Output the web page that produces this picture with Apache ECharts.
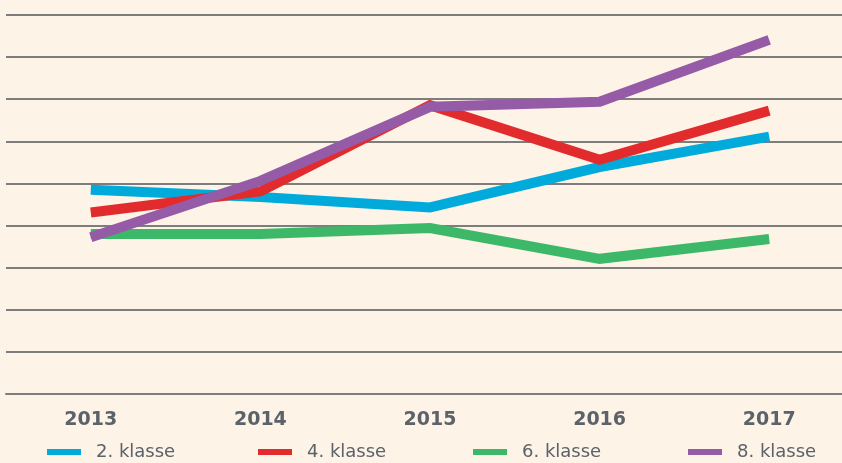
<!DOCTYPE html>
<html>
<head>
<meta charset="utf-8">
<script src="https://cdn.jsdelivr.net/npm/echarts@6/dist/echarts.min.js"></script>
<style>
html,body{margin:0;padding:0;background:#fdf3e7;}
#c{width:842px;height:463px;}
</style>
</head>
<body>
<div id="c"></div>
<script>
const categories = ['2013', '2014', '2015', '2016', '2017'];
const seriesNames = ['2. klasse', '4. klasse', '6. klasse', '8. klasse'];
const klasse2 = [4.85, 4.68, 4.43, 5.39, 6.11];
const klasse4 = [4.31, 4.81, 6.86, 5.56, 6.73];
const klasse6 = [3.80, 3.80, 3.94, 3.21, 3.68];
const klasse8 = [3.72, 5.06, 6.82, 6.94, 8.41];
const colors = ['#00abdc', '#e22b2d', '#3cb868', '#955ba6'];
const legendLeft = [47, 258, 473, 688];

const allData = [klasse2, klasse4, klasse6, klasse8];
const textColor = '#5b6269';
const gridColor = '#7d7d7d';
const font = 'DejaVu Sans';

const chart = echarts.init(document.getElementById('c'));
chart.setOption({
  backgroundColor: '#fdf3e7',
  animation: false,
  grid: { left: 6, width: 848, top: 15, height: 379, outerBoundsMode: 'none', containLabel: false },
  xAxis: {
    type: 'category',
    data: categories,
    boundaryGap: true,
    axisLine: { lineStyle: { color: gridColor, width: 2 } },
    axisTick: { alignWithLabel: true, length: 6, lineStyle: { color: '#555', width: 2, type: [0, 4, 2, 10] } },
    axisLabel: { color: textColor, fontFamily: font, fontWeight: 'bold', fontSize: 19, margin: 17 }
  },
  yAxis: {
    type: 'value',
    min: 0, max: 9, interval: 1,
    axisLine: { show: false },
    axisTick: { show: false },
    axisLabel: { show: false },
    splitLine: { lineStyle: { color: gridColor, width: 2 } }
  },
  legend: seriesNames.map((n, i) => ({
    data: [n],
    left: legendLeft[i],
    top: 443,
    padding: 0,
    icon: 'rect',
    itemWidth: 34,
    itemHeight: 6,
    textStyle: { color: textColor, fontFamily: font, fontSize: 18, padding: [0, 0, 0, 10] }
  })),
  series: seriesNames.map((n, i) => ({
    name: n,
    type: 'line',
    data: allData[i],
    symbol: 'none',
    showSymbol: false,
    color: colors[i],
    lineStyle: { width: 10, color: colors[i], cap: 'butt', join: 'miter' },
    itemStyle: { color: colors[i] }
  }))
});
</script>
</body>
</html>
